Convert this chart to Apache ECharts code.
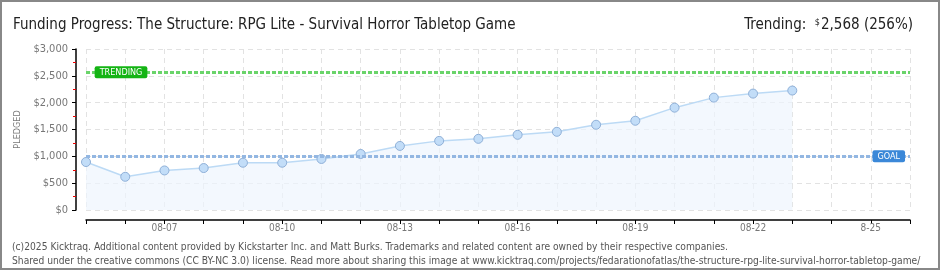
<!DOCTYPE html>
<html><head><meta charset="utf-8">
<script src="https://cdn.jsdelivr.net/npm/echarts@6/dist/echarts.min.js"></script>
<style>
html,body{margin:0;padding:0;background:#fff;}
#wrap{position:absolute;left:0;top:0;width:936px;height:266px;border:2px solid #888;}
#c{width:936px;height:266px;}
</style></head>
<body><div id="wrap"><div id="c"></div></div>
<script>
const categories = ['08-05','08-06','08-07','08-08','08-09','08-10','08-11','08-12','08-13','08-14','08-15','08-16','08-17','08-18','08-19','08-20','08-21','08-22','08-23','08-24','08-25','08-26'];
const tickLabels = ['','','08-07','','','08-10','','','08-13','','','08-16','','','08-19','','','08-22','','','8-25',''];
const pledged = [894,619,737,782,881,881,951,1044,1194,1288,1326,1401,1457,1588,1663,1907,2094,2169,2226];
const goal = 1000;
const trending = 2568;
const yTicks = [0,500,1000,1500,2000,2500,3000];

const chart = echarts.init(document.getElementById('c'), null, {renderer:'canvas'});
const F = 'DejaVu Sans Condensed, DejaVu Sans, sans-serif';
chart.setOption({
  animation:false,
  backgroundColor:'#fff',
  grid:{left:84,right:28,top:47,bottom:58},
  title:[
    {text:'Funding Progress: The Structure: RPG Lite - Survival Horror Tabletop Game', left:6, top:11,
     textStyle:{fontFamily:F,fontSize:15,fontWeight:'normal',color:'#222'}},
    {text:'{l|Trending:  }{s|$}{v|2,568 (256%)}', right:20, top:11,
     textStyle:{fontWeight:'normal',rich:{l:{fontFamily:F,fontSize:15,fontWeight:'normal',color:'#222'},s:{fontFamily:F,fontSize:9,fontWeight:'normal',color:'#222',verticalAlign:'top',padding:[0,1,6,0]},v:{fontFamily:F,fontSize:15,fontWeight:'normal',color:'#222'}}}},
    {text:'(c)2025 Kicktraq. Additional content provided by Kickstarter Inc. and Matt Burks. Trademarks and related content are owned by their respective companies.', left:5, top:235,
     textStyle:{fontFamily:F,fontSize:10.2,fontWeight:'normal',color:'#555'}},
    {text:'Shared under the creative commons (CC BY-NC 3.0) license. Read more about sharing this image at www.kicktraq.com/projects/fedarationofatlas/the-structure-rpg-lite-survival-horror-tabletop-game/', left:5, top:249,
     textStyle:{fontFamily:F,fontSize:10.2,fontWeight:'normal',color:'#555'}}
  ],
  xAxis:{type:'category',data:categories,boundaryGap:false,offset:10,
    axisLine:{onZero:false,lineStyle:{color:'#000',width:1.5}},
    axisTick:{show:true,interval:0,length:4,lineStyle:{color:'#000'}},
    axisLabel:{interval:0,formatter:(v,i)=>tickLabels[i],color:'#777',fontFamily:F,fontSize:10,margin:3},
    splitLine:{show:true,interval:0,lineStyle:{color:'#e2e2e2',type:[5,4]}}},
  yAxis:{type:'value',min:yTicks[0],max:yTicks[yTicks.length-1],interval:500,offset:10,
    name:'PLEDGED',nameLocation:'middle',nameRotate:90,nameGap:49,
    nameTextStyle:{color:'#777',fontFamily:F,fontSize:9},
    axisLine:{show:true,onZero:false,lineStyle:{color:'#000',width:1.5}},
    axisTick:{show:true,length:4,lineStyle:{color:'#000'}},
    minorTick:{show:true,splitNumber:2,length:3,lineStyle:{color:'#e00'}},
    axisLabel:{color:'#777',fontFamily:F,fontSize:11,margin:8,formatter:v=>'$'+v.toLocaleString('en-US')},
    splitLine:{show:true,lineStyle:{color:'#e2e2e2',type:[5,4]}}},
  series:[{
    type:'line',data:pledged,symbol:'circle',symbolSize:9,
    lineStyle:{color:'#bcdaf5',width:1.5},
    itemStyle:{color:'#c2ddf8',borderColor:'#8fb0d8',borderWidth:1},
    areaStyle:{color:'#eef5fd'},
    markLine:{symbol:'none',silent:true,label:{show:false},
      data:[
        {yAxis:trending,lineStyle:{color:'#6ad46a',width:3,type:[4,2]}},
        {yAxis:goal,lineStyle:{color:'#93b7e2',width:3,type:[4,2]}}
      ]},
    markPoint:{symbol:'rect',symbolSize:1,silent:true,itemStyle:{color:'rgba(0,0,0,0)'},
      data:[
        {coord:[0,trending],value:'TRENDING',label:{show:true,offset:[35,0],formatter:'TRENDING',color:'#fff',fontFamily:F,fontSize:9,backgroundColor:'#14b414',padding:[2,5,1,5],borderRadius:2}},
        {coord:[20,goal],value:'GOAL',label:{show:true,offset:[18,0],formatter:'GOAL',color:'#fff',fontFamily:F,fontSize:9,backgroundColor:'#3b88d8',padding:[2,5,1,5],borderRadius:2}}
      ]}
  }]
});
</script></body></html>
